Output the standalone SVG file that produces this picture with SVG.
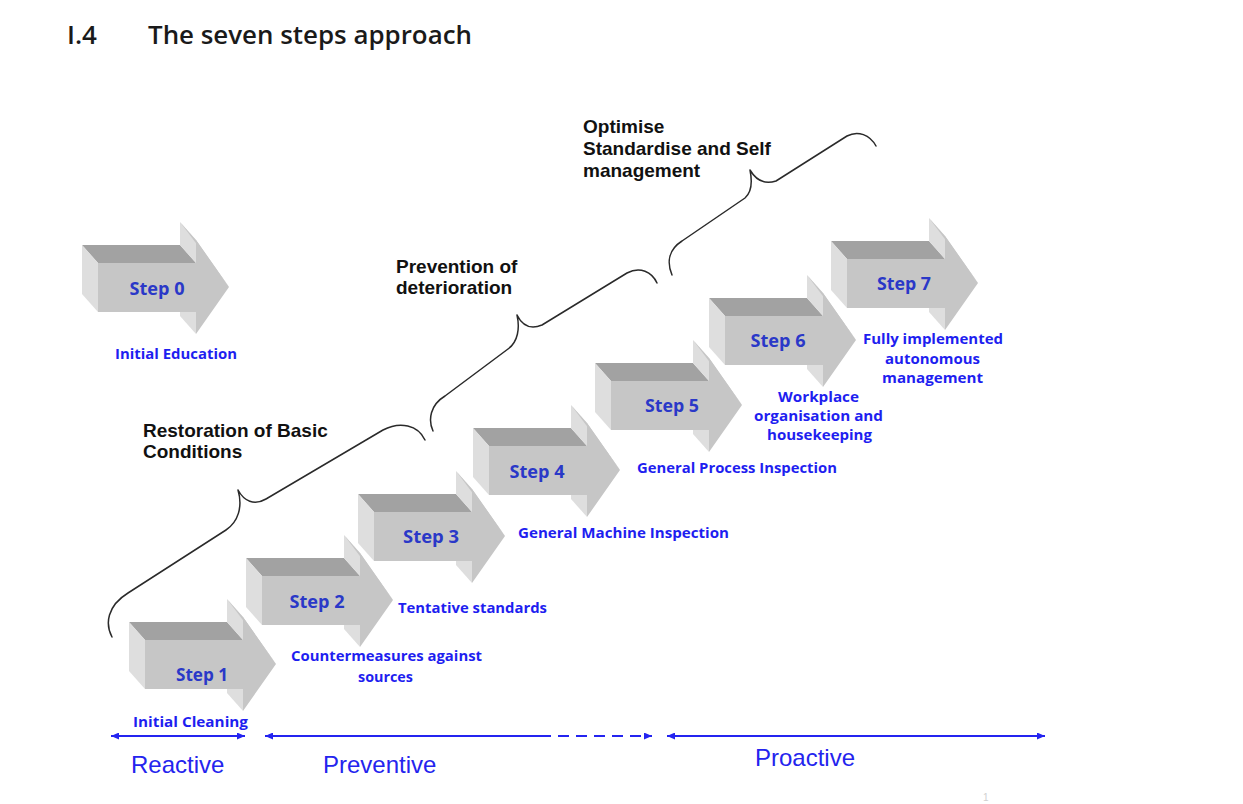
<svg xmlns="http://www.w3.org/2000/svg" xmlns:xlink="http://www.w3.org/1999/xlink" width="1243" height="804" viewBox="0 0 1243 804">
<style>
.top{fill:#a2a2a2}
.side{fill:#dedede}
.front{fill:#c6c6c6}
.step{font-family:"Open Sans","DejaVu Sans",sans-serif;font-weight:700;font-size:18px;fill:#2a38c8;text-anchor:middle}
.lbl{font-family:"Open Sans","DejaVu Sans",sans-serif;font-weight:700;font-size:14.5px;fill:#1e1ef0;text-anchor:middle}
.head{font-family:"Liberation Sans",Arial,sans-serif;font-weight:700;font-size:19px;fill:#111}
.phase{font-family:"Liberation Sans",Arial,sans-serif;font-size:24px;fill:#2424ee}
.title{font-family:"Open Sans","DejaVu Sans",sans-serif;font-weight:600;font-size:26px;fill:#1a1a1a}
.brace{fill:none;stroke:#2a2a2a;stroke-width:1.5;stroke-linecap:round;stroke-linejoin:round}
.span{fill:none;stroke:#2424f0;stroke-width:1.8}
</style>
<defs>
<marker id="ah" viewBox="0 0 8 7" refX="8" refY="3.5" markerWidth="8" markerHeight="7" markerUnits="userSpaceOnUse" orient="auto-start-reverse">
<path d="M0,0 L8,3.5 L0,7 z" fill="#2424f0"/>
</marker>
<g id="arrow3d">
<polygon class="top" points="0,0 98,0 82,-18 -16,-18"/>
<polygon class="side" points="-16,-18 0,0 0,49 -16,31"/>
<polygon class="side" points="82,-41 98,-23 98,0 82,-18"/>
<polygon class="side" points="82,31 98,49 98,71 82,53"/>
<polygon class="front" points="82,-41 131,24 98,-23"/>
<polygon class="front" points="0,0 98,0 98,-23 131,24 98,71 98,49 0,49"/>
</g>
</defs>
<rect width="1243" height="804" fill="#ffffff"/>
<g id="title">
<text class="title" x="67" y="44">I.4</text>
<text class="title" x="148" y="44" textLength="324" lengthAdjust="spacingAndGlyphs">The seven steps approach</text>
</g>
<g id="step0">
<use xlink:href="#arrow3d" x="98" y="263"/>
<text class="step" x="157" y="295" textLength="55" lengthAdjust="spacingAndGlyphs">Step 0</text>
<text class="lbl" x="176" y="359" textLength="122" lengthAdjust="spacingAndGlyphs">Initial Education</text>
</g>
<g id="step1">
<use xlink:href="#arrow3d" x="145" y="640"/>
<text class="step" x="202" y="681" textLength="52" lengthAdjust="spacingAndGlyphs">Step 1</text>
<text class="lbl" x="190.5" y="727" textLength="115" lengthAdjust="spacingAndGlyphs">Initial Cleaning</text>
</g>
<g id="step2">
<use xlink:href="#arrow3d" x="262" y="576"/>
<text class="step" x="317" y="608" textLength="55" lengthAdjust="spacingAndGlyphs">Step 2</text>
<text class="lbl" x="386.5" y="661" textLength="191" lengthAdjust="spacingAndGlyphs">Countermeasures against</text>
<text class="lbl" x="385.5" y="682" textLength="55" lengthAdjust="spacingAndGlyphs">sources</text>
</g>
<g id="step3">
<use xlink:href="#arrow3d" x="374" y="512"/>
<text class="step" x="431" y="543" textLength="56" lengthAdjust="spacingAndGlyphs">Step 3</text>
<text class="lbl" x="472.5" y="613" textLength="149" lengthAdjust="spacingAndGlyphs">Tentative standards</text>
</g>
<g id="step4">
<use xlink:href="#arrow3d" x="489" y="446"/>
<text class="step" x="537" y="478" textLength="55" lengthAdjust="spacingAndGlyphs">Step 4</text>
<text class="lbl" x="623.5" y="538" textLength="211" lengthAdjust="spacingAndGlyphs">General Machine Inspection</text>
</g>
<g id="step5">
<use xlink:href="#arrow3d" x="611" y="381"/>
<text class="step" x="672" y="412" textLength="54" lengthAdjust="spacingAndGlyphs">Step 5</text>
<text class="lbl" x="737" y="473" textLength="200" lengthAdjust="spacingAndGlyphs">General Process Inspection</text>
</g>
<g id="step6">
<use xlink:href="#arrow3d" x="725" y="316"/>
<text class="step" x="778" y="347" textLength="55" lengthAdjust="spacingAndGlyphs">Step 6</text>
<text class="lbl" x="818.5" y="402" textLength="81" lengthAdjust="spacingAndGlyphs">Workplace</text>
<text class="lbl" x="818.5" y="421" textLength="129" lengthAdjust="spacingAndGlyphs">organisation and</text>
<text class="lbl" x="819.5" y="440" textLength="105" lengthAdjust="spacingAndGlyphs">housekeeping</text>
</g>
<g id="step7">
<use xlink:href="#arrow3d" x="847" y="259"/>
<text class="step" x="904" y="290" textLength="54" lengthAdjust="spacingAndGlyphs">Step 7</text>
<text class="lbl" x="933" y="344" textLength="140" lengthAdjust="spacingAndGlyphs">Fully implemented</text>
<text class="lbl" x="932.5" y="364" textLength="95" lengthAdjust="spacingAndGlyphs">autonomous</text>
<text class="lbl" x="932.5" y="383" textLength="101" lengthAdjust="spacingAndGlyphs">management</text>
</g>
<g id="phase-labels">
<text class="head" x="143" y="437">Restoration of Basic</text>
<text class="head" x="143" y="458">Conditions</text>
<text class="head" x="396" y="273">Prevention of</text>
<text class="head" x="396" y="294">deterioration</text>
<text class="head" x="583" y="133">Optimise</text>
<text class="head" x="583" y="155">Standardise and Self</text>
<text class="head" x="583" y="177">management</text>
</g>
<g id="connectors">
<path class="brace" d="M112,637 C105,624 107,606 128,593 L226,530 C238,522 243,507 238,490 C244,501 254,506 266,499 L383,430 C400,421 418,425 425,440"/>
<path class="brace" d="M433,431 C428,420 430,405 445,396 L508,349 C518,342 520,328 517,315 C522,325 530,330 542,325 L627,273 C640,266 652,272 657,283"/>
<path class="brace" d="M672,275 C667,263 668,250 682,241 L745,198 C752,192 752,180 750,170 C756,180 764,185 776,181 L847,136 C858,130 870,135 876,146"/>
<line class="span" x1="111" y1="736" x2="245" y2="736" marker-start="url(#ah)" marker-end="url(#ah)"/>
<line class="span" x1="265" y1="736" x2="540" y2="736" marker-start="url(#ah)"/>
<line class="span" x1="540" y1="736" x2="652" y2="736" stroke-dasharray="11,7" marker-end="url(#ah)"/>
<line class="span" x1="667" y1="736" x2="1045" y2="736" marker-start="url(#ah)" marker-end="url(#ah)"/>
</g>
<g id="phases">
<text class="phase" x="131" y="773">Reactive</text>
<text class="phase" x="323" y="773">Preventive</text>
<text class="phase" x="755" y="766">Proactive</text>
</g>
<text x="983" y="801" font-family="Liberation Sans, Arial, sans-serif" font-size="10" fill="#d0d0d0">1</text>
</svg>
